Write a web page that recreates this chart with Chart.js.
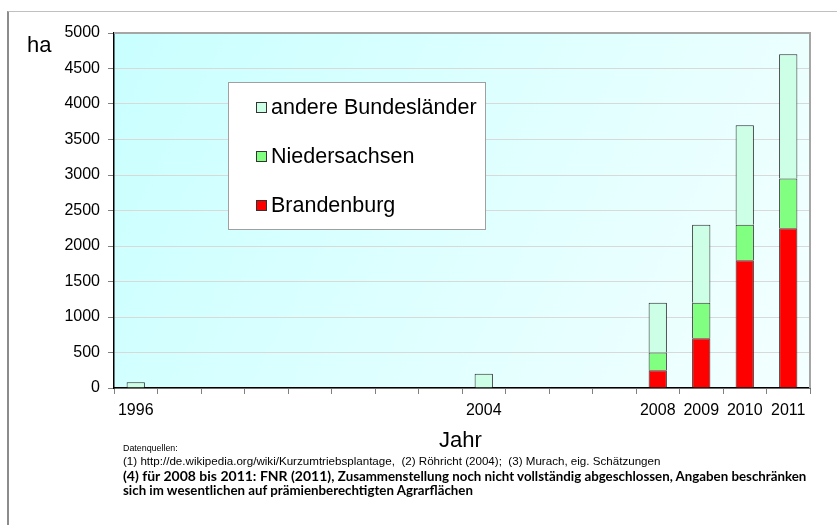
<!DOCTYPE html>
<html>
<head>
<meta charset="utf-8">
<script src="https://cdn.jsdelivr.net/npm/chart.js@4"></script>
<style>
  body { margin: 0; background: #fff; }
  #wrap { position: relative; width: 837px; height: 525px; }
  #frame { position: absolute; left: 7px; top: 11px; width: 840px; height: 530px; border-left: 2px solid #8c8c8c; border-top: 1px solid #c0c0c0; }
  .txt { position: absolute; white-space: nowrap; color: #000; }
  .arial { font-family: "Liberation Sans", Arial, sans-serif; }
  .cal { font-family: Lato, "Open Sans", sans-serif; font-weight: bold; }
</style>
</head>
<body>
<div id="wrap">
  <div id="frame"></div>
  <canvas id="chart" width="837" height="525" style="position:absolute;left:0;top:0"></canvas>
  <div class="txt arial" style="left:27px;top:32px;font-size:22px;">ha</div>
  <div class="txt arial" style="left:439px;top:427px;font-size:22px;">Jahr</div>
  <div class="txt arial" style="left:123px;top:443px;font-size:8.9px;">Datenquellen:</div>
  <div class="txt arial" style="left:123px;top:454px;font-size:11.6px;">(1) http://de.wikipedia.org/wiki/Kurzumtriebsplantage,&nbsp; (2) Röhricht (2004);&nbsp; (3) Murach, eig. Schätzungen</div>
  <div class="txt cal" style="left:123px;top:467px;font-size:14px;">(4) für 2008 bis 2011: FNR (2011), <span style="font-size:13.3px;">Zusammenstellung noch nicht vollständig abgeschlossen, Angaben beschränken</span></div>
  <div class="txt cal" style="left:123px;top:482px;font-size:13.3px;">sich im wesentlichen auf prämienberechtigten Agrarflächen</div>
</div>
<script>
const years = ['1996','1997','1998','1999','2000','2001','2002','2003','2004','2005','2006','2007','2008','2009','2010','2011'];
const shownYears = ['1996','2004','2008','2009','2010','2011'];
const brandenburg = [null,null,null,null,null,null,null,null,null,null,null,null,250,700,1800,2250];
const niedersachsen = [null,null,null,null,null,null,null,null,null,null,null,null,250,500,500,700];
const andere = [80,null,null,null,null,null,null,null,200,null,null,null,700,1100,1400,1750];

const plotDecor = {
  id: 'plotDecor',
  beforeDraw(chart) {
    const { ctx, chartArea: a } = chart;
    const g = ctx.createLinearGradient(a.left, a.top, a.right, a.bottom);
    g.addColorStop(0, '#c9ffff');
    g.addColorStop(1, '#f4ffff');
    ctx.save();
    ctx.fillStyle = g;
    ctx.fillRect(a.left, a.top, a.right - a.left, a.bottom - a.top);
    ctx.restore();
  },
  afterDatasetsDraw(chart) {
    const { ctx, chartArea: a } = chart;
    ctx.save();
    ctx.strokeStyle = '#a6a6a6';
    ctx.lineWidth = 2;
    ctx.beginPath();
    ctx.moveTo(a.left, a.top);
    ctx.lineTo(a.right, a.top);
    ctx.lineTo(a.right, a.bottom);
    ctx.stroke();
    ctx.restore();

    // legend box inside plot
    const bx = 228, by = 82, bw = 257, bh = 147;
    ctx.save();
    ctx.fillStyle = '#ffffff';
    ctx.fillRect(bx, by, bw, bh);
    ctx.strokeStyle = '#a0a0a0';
    ctx.lineWidth = 1;
    ctx.strokeRect(bx + 0.5, by + 0.5, bw, bh);
    ctx.font = '21.5px "Liberation Sans", Arial, sans-serif';
    ctx.textBaseline = 'middle';
    const ds = chart.data.datasets.slice().reverse();
    ds.forEach((d, i) => {
      const cy = 107 + i * 49;
      ctx.fillStyle = d.backgroundColor;
      ctx.fillRect(256, cy - 5, 10, 10);
      ctx.strokeStyle = '#333';
      ctx.strokeRect(256.5, cy - 4.5, 10, 10);
      ctx.fillStyle = '#000';
      ctx.fillText(d.label, 271, cy + 1);
    });
    ctx.restore();
  }
};

const barStyle = { borderColor: '#2b2b2b', borderWidth: 1, barPercentage: 0.42, categoryPercentage: 1 };

new Chart(document.getElementById('chart').getContext('2d'), {
  type: 'bar',
  data: {
    labels: years,
    datasets: [
      Object.assign({ label: 'Brandenburg', data: brandenburg, backgroundColor: '#ff0000' }, barStyle),
      Object.assign({ label: 'Niedersachsen', data: niedersachsen, backgroundColor: '#80ff80' }, barStyle),
      Object.assign({ label: 'andere Bundesländer', data: andere, backgroundColor: '#ccffe6' }, barStyle)
    ]
  },
  options: {
    responsive: false,
    animation: false,
    layout: { padding: { left: 0, top: 33, right: 27, bottom: 0 } },
    plugins: { legend: { display: false }, tooltip: { enabled: false } },
    scales: {
      x: {
        stacked: true,
        afterFit(scale) { scale.height = 137; },
        border: { color: '#000', width: 1.5 },
        grid: { offset: true, drawOnChartArea: false, tickLength: 6, color: '#808080' },
        ticks: {
          autoSkip: false, maxRotation: 0, padding: 7,
          color: '#000',
          font: { family: '"Liberation Sans", Arial, sans-serif', size: 16 },
          callback(v) { const y = years[v]; return shownYears.includes(y) ? y : ''; }
        }
      },
      y: {
        stacked: true,
        min: 0, max: 5000,
        afterFit(scale) { scale.width = 114; },
        border: { color: '#000', width: 1.5 },
        grid: { color: '#d9d9d9', tickColor: '#808080', tickLength: 6 },
        ticks: {
          stepSize: 500, padding: 8, color: '#000',
          font: { family: '"Liberation Sans", Arial, sans-serif', size: 16 },
          callback(v) { return String(v); }
        }
      }
    }
  },
  plugins: [plotDecor]
});
</script>
</body>
</html>
